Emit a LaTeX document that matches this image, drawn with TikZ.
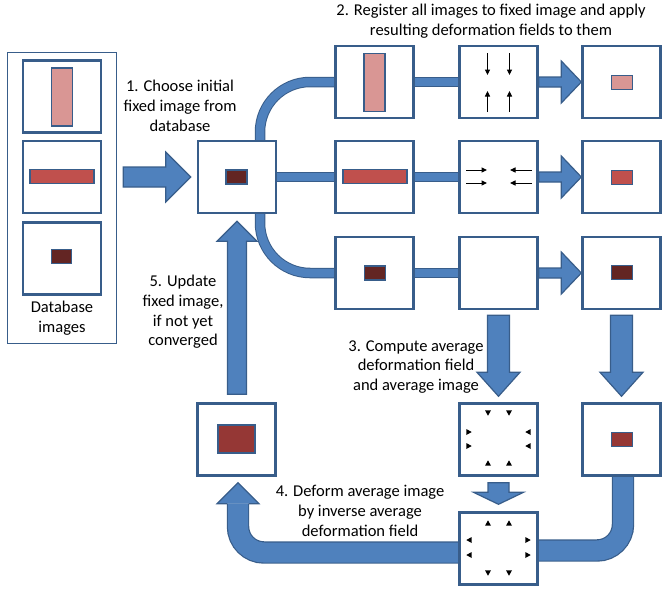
\documentclass[tikz,border=0pt]{standalone}
\usepackage{fontspec}
\setmainfont{Carlito}
\usetikzlibrary{calc,arrows.meta,backgrounds}
\definecolor{bandfill}{HTML}{4F81BD}
\definecolor{bandline}{HTML}{385D8A}
\definecolor{boxline}{HTML}{385D8A}
\definecolor{pinkc}{HTML}{D99694}
\definecolor{redc}{HTML}{C0504D}
\definecolor{darkc}{HTML}{632523}
\definecolor{avgc}{HTML}{953735}
\tikzset{
 imgbox/.style={draw=boxline, line width=2.4pt, fill=white, minimum width=78pt, minimum height=72pt, inner sep=0pt},
 dbbox/.style={draw=boxline, line width=1.5pt, fill=white, minimum width=109pt, minimum height=291pt, inner sep=0pt},
 blob/.style={draw=boxline, line width=1.3pt, inner sep=0pt},
 band/.style={draw=bandline, line width=1pt, double=bandfill, double distance=8.5pt},
 wideband/.style={draw=bandline, line width=1.2pt, double=bandfill, double distance=20pt},
 blockarrow/.style={fill=bandfill, draw=bandline, line width=1.2pt, line join=miter},
 lbl/.style={font=\fontsize{16.5}{19.7}\selectfont, align=center, inner sep=0pt},
 fieldarrow/.style={line width=1pt, -{Triangle[length=5.5pt,width=5pt]}},
 triD/.pic={\fill (-3,-2.7) -- (3,-2.7) -- (0,2.7) -- cycle;},
 triU/.pic={\fill (-3,2.7) -- (3,2.7) -- (0,-2.7) -- cycle;},
 triR/.pic={\fill (-2.7,-3) -- (-2.7,3) -- (2.7,0) -- cycle;},
 triL/.pic={\fill (2.7,-3) -- (2.7,3) -- (-2.7,0) -- cycle;}
}
\newcommand\harrow[7]{%
 \filldraw[blockarrow] let \p1=(#1.east), \p2=(#2.west) in
  (\x1+#3pt,\y2+#5pt) -- (\x2-#4pt-#7pt,\y2+#5pt) -- (\x2-#4pt-#7pt,\y2+#6pt) -- (\x2-#4pt,\y2)
  -- (\x2-#4pt-#7pt,\y2-#6pt) -- (\x2-#4pt-#7pt,\y2-#5pt) -- (\x1+#3pt,\y2-#5pt) -- cycle;}
\newcommand\varrowdown[7]{%
 \filldraw[blockarrow] let \p1=(#1.south), \p2=(#2.north) in
  (\x2-#5pt,\y1-#3pt) -- (\x2-#5pt,\y2+#4pt+#7pt) -- (\x2-#6pt,\y2+#4pt+#7pt) -- (\x2,\y2+#4pt)
  -- (\x2+#6pt,\y2+#4pt+#7pt) -- (\x2+#5pt,\y2+#4pt+#7pt) -- (\x2+#5pt,\y1-#3pt) -- cycle;}
\newcommand\varrowup[7]{%
 \filldraw[blockarrow] let \p1=(#1.north), \p2=(#2.south) in
  (\x2-#5pt,\y1+#3pt) -- (\x2-#5pt,\y2-#4pt-#7pt) -- (\x2-#6pt,\y2-#4pt-#7pt) -- (\x2,\y2-#4pt)
  -- (\x2+#6pt,\y2-#4pt-#7pt) -- (\x2+#5pt,\y2-#4pt-#7pt) -- (\x2+#5pt,\y1+#3pt) -- cycle;}
\begin{document}
\begin{tikzpicture}[x=1pt,y=-1pt]
\useasboundingbox (0,0) rectangle (662,590);
% database
\node[dbbox] (db) at (62,198) {};
\node[imgbox] (db1) at (62,96.5) {};
\node[imgbox] (db2) at (62,177) {};
\node[imgbox] (db3) at (62,258.5) {};
\node[blob, fill=pinkc, minimum width=21pt, minimum height=58pt] (db1r) at (61.7,97) {};
\node[blob, fill=redc, minimum width=64pt, minimum height=14pt] (db2r) at (62,176.5) {};
\node[blob, fill=darkc, minimum width=20pt, minimum height=14pt] (db3r) at (61.5,256.5) {};
% main boxes
\node[imgbox] (fixed) at (237,177) {};
\node[imgbox] (r1) at (374.5,82) {};
\node[imgbox] (r2) at (374.5,177) {};
\node[imgbox] (r3) at (374.5,273) {};
\node[imgbox] (d1) at (498.5,82) {};
\node[imgbox] (d2) at (498.5,177) {};
\node[imgbox] (d3) at (498.5,273) {};
\node[imgbox] (o1) at (621.5,82) {};
\node[imgbox] (o2) at (621.5,177) {};
\node[imgbox] (o3) at (621.5,273) {};
\node[imgbox] (avg) at (498.5,439.5) {};
\node[imgbox] (avgimg) at (621.5,439.5) {};
\node[imgbox] (inv) at (498.5,548.5) {};
\node[imgbox] (upd) at (236.5,439.5) {};
% contents
\node[blob, fill=darkc, minimum width=21pt, minimum height=14pt] (fixedr) at (236.5,177) {};
\node[blob, fill=pinkc, minimum width=21pt, minimum height=58pt] (r1r) at (374.5,82.5) {};
\node[blob, fill=redc, minimum width=64pt, minimum height=14pt] (r2r) at (375,176.5) {};
\node[blob, fill=darkc, minimum width=21pt, minimum height=14pt] (r3r) at (375,273) {};
\node[blob, fill=pinkc, minimum width=21pt, minimum height=14pt] (o1r) at (622,82.5) {};
\node[blob, fill=redc, minimum width=21pt, minimum height=14pt] (o2r) at (622,177.5) {};
\node[blob, fill=darkc, minimum width=21pt, minimum height=14pt] (o3r) at (622,272.5) {};
\node[blob, fill=avgc, minimum width=21pt, minimum height=14pt] (avgr) at (622,439.5) {};
\node[blob, fill=avgc, minimum width=37pt, minimum height=28pt] (updr) at (236.5,439) {};
% field arrows
\draw[fieldarrow] ($(d1)+(-11,-29)$) -- ($(d1)+(-11,-7)$);
\draw[fieldarrow] ($(d1)+(11,-29)$) -- ($(d1)+(11,-7)$);
\draw[fieldarrow] ($(d1)+(-11,30)$) -- ($(d1)+(-11,9)$);
\draw[fieldarrow] ($(d1)+(11,30)$) -- ($(d1)+(11,9)$);
\draw[fieldarrow] ($(d2)+(-32.5,-7)$) -- ($(d2)+(-11.5,-7)$);
\draw[fieldarrow] ($(d2)+(-32.5,6)$) -- ($(d2)+(-11.5,6)$);
\draw[fieldarrow] ($(d2)+(33.5,-7)$) -- ($(d2)+(11.5,-7)$);
\draw[fieldarrow] ($(d2)+(33.5,6)$) -- ($(d2)+(11.5,6)$);
% average field triangles
\pic at ($(avg)+(-10.5,-26.5)$) {triD};
\pic at ($(avg)+(10.5,-26.5)$) {triD};
\pic at ($(avg)+(-29.5,-7.5)$) {triR};
\pic at ($(avg)+(-29.5,6.5)$) {triR};
\pic at ($(avg)+(29.5,-7.5)$) {triL};
\pic at ($(avg)+(29.5,6.5)$) {triL};
\pic at ($(avg)+(-10.5,23.5)$) {triU};
\pic at ($(avg)+(10.5,23.5)$) {triU};
% inverse field triangles
\pic at ($(inv)+(-10.5,-25.5)$) {triU};
\pic at ($(inv)+(10.5,-25.5)$) {triU};
\pic at ($(inv)+(-29.5,-8.5)$) {triL};
\pic at ($(inv)+(-29.5,6.5)$) {triL};
\pic at ($(inv)+(29.5,-8.5)$) {triR};
\pic at ($(inv)+(29.5,6.5)$) {triR};
\pic at ($(inv)+(-10.5,24.5)$) {triD};
\pic at ($(inv)+(10.5,24.5)$) {triD};
% bands behind boxes
\coordinate (fa) at ($(fixed.center)+(23,-20)$);
\coordinate (fb) at ($(fixed.center)+(23,20)$);
\coordinate (uc) at ($(upd.south |- inv.west)+(1.5,4)$);
\coordinate (ubase) at ($(upd.south)+(1.5,27)$);
\coordinate (utip) at ($(upd.south)+(1.5,6)$);
\begin{pgfonlayer}{background}
\draw[band] (fixed.east) -- (r2.west);
\draw[band, rounded corners=50pt] (fa) -- (fa |- r1.west) -- (r1.west);
\draw[band, rounded corners=50pt] (fb) -- (fb |- r3.west) -- (r3.west);
\draw[band] (r1.east) -- (d1.west);
\draw[band] (r2.east) -- (d2.west);
\draw[band] (r3.east) -- (d3.west);
\draw[wideband, rounded corners=26pt] ($(avgimg.south)+(1.5,-6)$) -- ($(avgimg.south |- inv.east)+(1.5,2)$) -- ($(inv.east)+(-6,2)$);
\draw[wideband, rounded corners=26pt] ($(inv.west)+(6,4)$) -- (uc) -- (ubase);
\end{pgfonlayer}
% block arrows
\harrow{db}{fixed}{6}{6}{10}{25}{25}
\harrow{d1}{o1}{0}{0}{5}{21}{20}
\harrow{d2}{o2}{0}{0}{5}{21}{20}
\harrow{d3}{o3}{0}{0}{5}{21}{20}
\varrowdown{d3}{avg}{5}{6}{11}{21.5}{24}
\varrowdown{o3}{avgimg}{5}{6}{11}{21.5}{24}
\varrowdown{avg}{inv}{6}{7}{10.5}{25}{12}
\varrowup{upd}{fixed}{8}{7}{9.5}{20}{20}
\filldraw[blockarrow] ($(ubase)+(-10.6,0)$) -- ($(ubase)+(-21,0)$) -- (utip) -- ($(ubase)+(21,0)$) -- ($(ubase)+(10.6,0)$);
% labels
\node[lbl] (t1) at (180,106) {1. Choose initial\\fixed image from\\database};
\node[lbl] (t2) at (491,21.5) {2. Register all images to fixed image and apply\\resulting deformation fields to them};
\node[lbl] (t3) at (416,367) {3. Compute average\\deformation field\\and average image};
\node[lbl] (t4) at (360,511) {4. Deform average image\\by inverse average\\deformation field};
\node[lbl] (t5) at (183,312) {5. Update\\fixed image,\\if not yet\\converged};
\node[lbl] (tdb) at (62,318) {Database\\images};
\end{tikzpicture}
\end{document}
